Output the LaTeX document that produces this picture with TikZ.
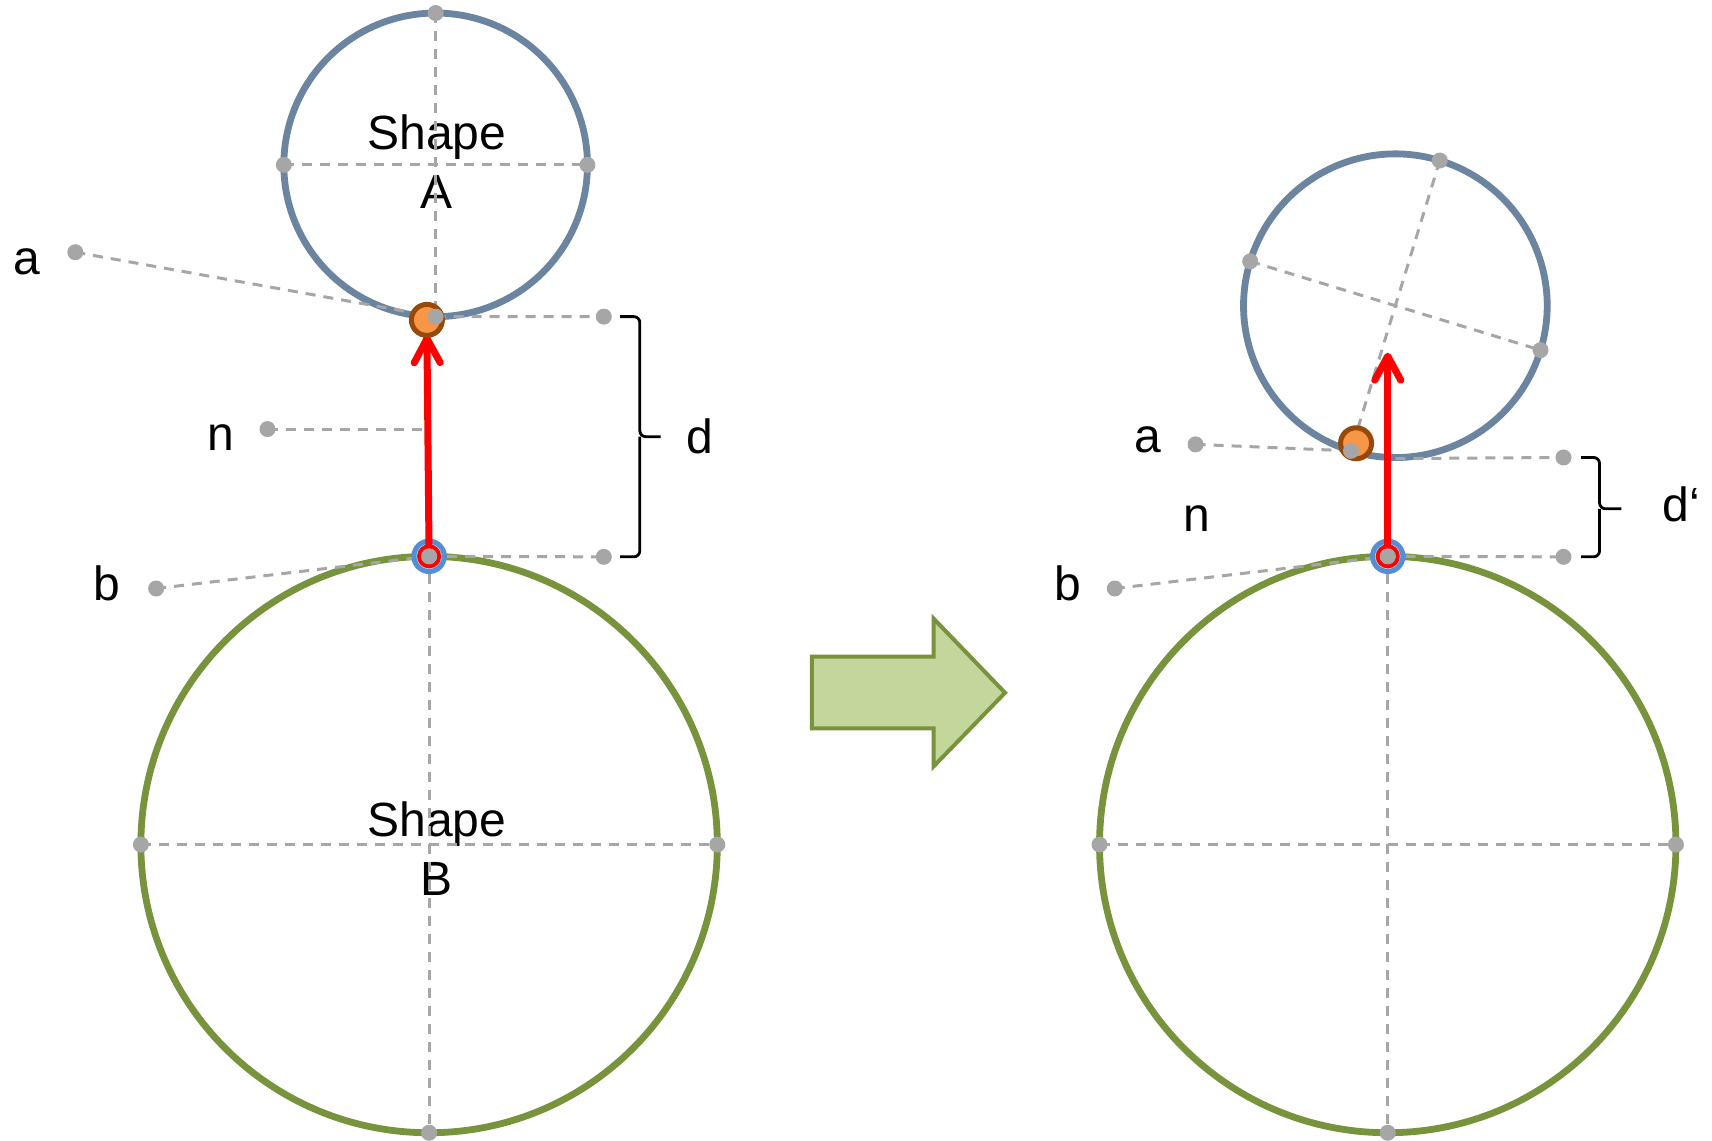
\documentclass[tikz,border=0pt]{standalone}
\usepackage{fontspec}
\setmainfont{Liberation Sans}
\usetikzlibrary{arrows.meta}
\definecolor{shapeAblue}{HTML}{6B84A0}
\definecolor{shapeBgreen}{HTML}{77933C}
\definecolor{arrowgreen}{HTML}{C3D69B}
\definecolor{dotgray}{HTML}{A6A6A6}
\definecolor{hitfill}{HTML}{F79646}
\definecolor{hitline}{HTML}{984807}
\definecolor{ringblue}{HTML}{558ED5}
\definecolor{ringfill}{HTML}{C6D9F1}
\tikzset{
  shapeA/.style={circle,draw=shapeAblue,line width=3.4pt,inner sep=0pt,outer sep=0pt,minimum size=151.8pt},
  shapeB/.style={circle,draw=shapeBgreen,line width=3.4pt,inner sep=0pt,outer sep=0pt,minimum size=288.2pt},
  guide/.style={draw=dotgray,line width=1.5pt,dash pattern=on 5pt off 4pt},
  dot/.style={circle,fill=dotgray,inner sep=0pt,minimum size=8pt},
  txt/.style={inner sep=0pt,font=\fontsize{24}{29.5}\selectfont},
  hit/.style={circle,draw=hitline,fill=hitfill,line width=2.5pt,inner sep=0pt,minimum size=15.5pt},
  ring/.style={circle,draw=ringblue,fill=ringfill,line width=2.5pt,inner sep=0pt,minimum size=15.2pt},
  tail/.style={circle,draw=red,line width=2pt,inner sep=0pt,minimum size=10pt},
  push/.style={draw=red,line width=3.5pt,line cap=round,-{Straight Barb[length=12pt,width=13pt,round]}},
  bracket/.style={draw=black,line width=1.4pt,rounded corners=3pt},
  bigarrow/.style={draw=shapeBgreen,fill=arrowgreen,line width=2pt,line join=miter}
}
\begin{document}
\begin{tikzpicture}[x=0.5459pt,y=-0.5459pt]
\useasboundingbox (0,0) rectangle (1568,1045);
% before
\node[shapeA] (A) at (399,151) {};
\node[shapeB] (B) at (393,773.5) {};
\node[txt,align=center] (Atext) at (400,148) {Shape\\A};
\node[txt,align=center] (Btext) at (400,777) {Shape\\B};
\coordinate (la) at (69,231);
\coordinate (ln) at (245,393);
\coordinate (lb) at (143,539);
\coordinate (d1top) at (553,290);
\coordinate (d1bot) at (553,510);
\coordinate (nend) at (390,393);
\coordinate (tip1) at (391,307);
\draw[guide] (A.north) -- (A.south);
\draw[guide] (A.west) -- (A.east);
\draw[guide] (B.north) -- (B.south);
\draw[guide] (B.west) -- (B.east);
\draw[guide] (la) -- (A.south);
\draw[guide] (A.south) -- (d1top);
\draw[guide] (ln) -- (nend);
\draw[guide] (lb) -- (B.north);
\draw[guide] (B.north) -- (d1bot);
\node[ring] (ring1) at (B.north) {};
\node[tail] (tail1) at (B.north) {};
\draw[push] (B.north) -- (tip1);
\node[hit] (hit1) at (391,293) {};
\foreach \p in {A.north,A.south,A.west,A.east,B.north,B.south,B.west,B.east,la,ln,lb,d1top,d1bot}
  \node[dot] (dot-\p) at (\p) {};
\draw[bracket] (568,290) -| (586,400) -- (605,400);
\draw[bracket] (586,400) |- (568,510);
\node[txt] (alabel) at (25,240) {a};
\node[txt] (nlabel) at (202,401) {n};
\node[txt] (blabel) at (98,534) {b};
\node[txt] (dlabel) at (641,400) {d};
% arrow
\draw[bigarrow] (743.5,601.5) -- (855,601.5) -- (855,566.5) -- (920.5,634.5)
  -- (855,702) -- (855,667) -- (743.5,667) -- cycle;
% after
\node[shapeA,rotate=-17] (A2) at (1278,280) {};
\node[shapeB] (B2) at (1271,773.5) {};
\coordinate (ra) at (1095,407);
\coordinate (rb) at (1021,539);
\coordinate (d2top) at (1432,419);
\coordinate (d2bot) at (1432,510);
\coordinate (A2bot) at (1278,420);
\coordinate (tip2) at (1271,323);
\draw[guide] (A2.north) -- (A2.south);
\draw[guide] (A2.west) -- (A2.east);
\draw[guide] (B2.north) -- (B2.south);
\draw[guide] (B2.west) -- (B2.east);
\draw[guide] (ra) -- (A2.south);
\draw[guide] (A2bot) -- (d2top);
\draw[guide] (rb) -- (B2.north);
\draw[guide] (B2.north) -- (d2bot);
\node[ring] (ring2) at (B2.north) {};
\node[tail] (tail2) at (B2.north) {};
\draw[push] (B2.north) -- (tip2);
\node[hit] (hit2) at (1242,406) {};
\foreach \p in {A2.north,A2.south,A2.west,A2.east,B2.north,B2.south,B2.west,B2.east,ra,rb,d2top,d2bot}
  \node[dot] (dot-\p) at (\p) {};
\draw[bracket] (1448,419) -| (1465,466) -- (1485,466);
\draw[bracket] (1465,466) |- (1448,510);
\node[txt] (a2label) at (1051,403) {a};
\node[txt] (n2label) at (1096,475) {n};
\node[txt] (b2label) at (978,534) {b};
\node[txt] (d2label) at (1540,462) {d‘};
\end{tikzpicture}
\end{document}
